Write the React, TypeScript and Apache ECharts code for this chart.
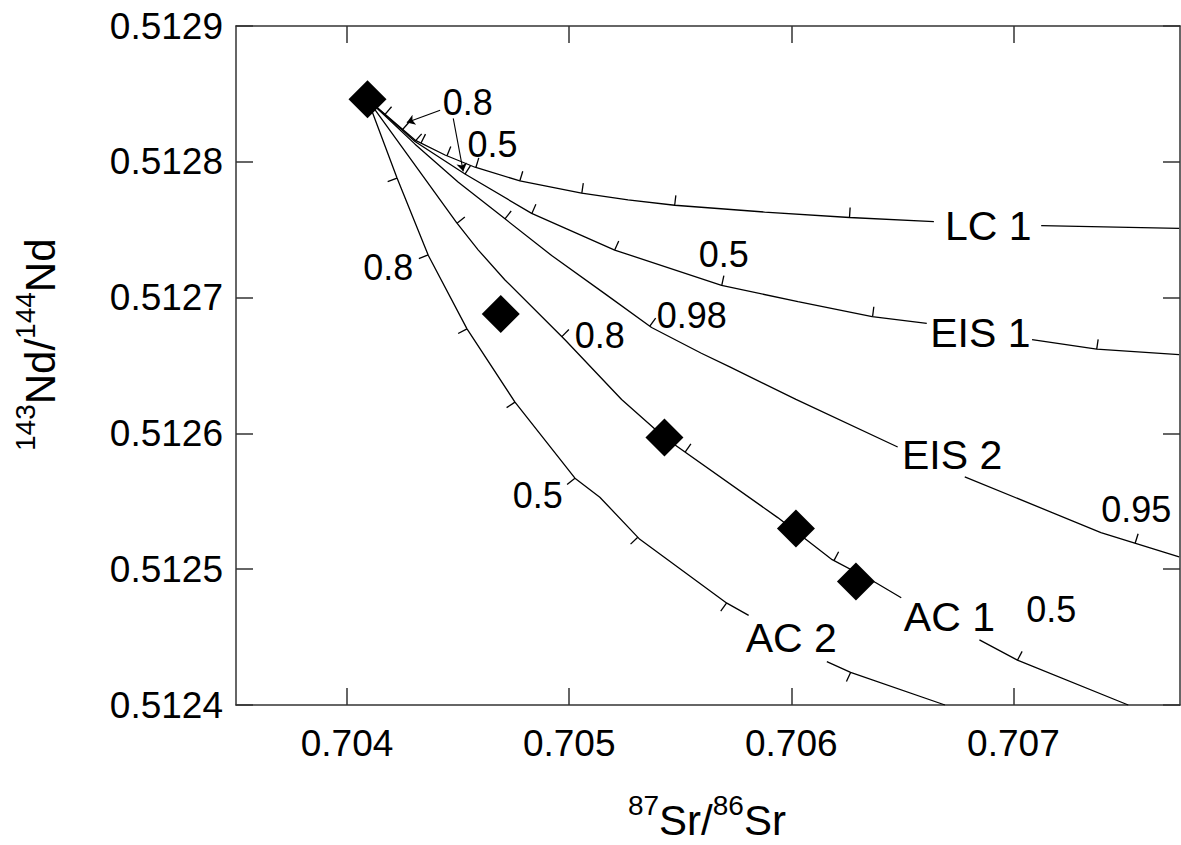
import React, { useEffect, useRef } from 'react';
import * as echarts from 'echarts';

const FONT = '"Liberation Sans", Arial, Helvetica, sans-serif';

// Axis tick values
const xTicks = [0.704, 0.705, 0.706, 0.707];
const yTicks = [0.5124, 0.5125, 0.5126, 0.5127, 0.5128, 0.5129];

// Mixing / AFC curves (null = break in the line where its name sits)
const lc1X = [0.704092, 0.704306, 0.704441, 0.704576, 0.704778, 0.705056, 0.705265, 0.705475, 0.70588, 0.706262, 0.706642, null, 0.707125, 0.707746];
const lc1Y = [0.512846, 0.512816, 0.512805, 0.512796, 0.512786, 0.512777, 0.512772, 0.512768, 0.512763, 0.512759, 0.512756, null, 0.512753, 0.512751];

const eis1X = [0.704092, 0.704306, 0.704531, 0.704831, 0.705205, 0.705686, 0.70603, 0.706364, 0.70661, null, 0.707084, 0.707375, 0.707746];
const eis1Y = [0.512846, 0.512815, 0.512791, 0.512762, 0.512735, 0.512709, 0.512697, 0.512686, 0.512681, null, 0.512669, 0.512662, 0.512658];

const eis2X = [0.704092, 0.704306, 0.704501, 0.704711, 0.704921, 0.705168, 0.705371, 0.705595, 0.705723, 0.706021, 0.706479, null, 0.706781, 0.707394, 0.70755, 0.707746];
const eis2Y = [0.512846, 0.512813, 0.512785, 0.512758, 0.512731, 0.512702, 0.512678, 0.512659, 0.512649, 0.512625, 0.51259, null, 0.512568, 0.512527, 0.512519, 0.512509];

const ac1X = [0.704092, 0.704494, 0.704591, 0.704711, 0.704981, 0.705236, 0.705429, 0.705939, 0.706184, 0.706381, 0.706495, null, 0.706847, 0.707018, 0.707517];
const ac1Y = [0.512846, 0.512755, 0.512735, 0.512713, 0.512669, 0.512625, 0.512597, 0.512538, 0.512507, 0.51249, 0.512479, null, 0.512448, 0.512433, 0.5124];

const ac2X = [0.704092, 0.704225, 0.704366, 0.70454, 0.704756, 0.705026, 0.705138, 0.705318, 0.70571, 0.705808, null, 0.70616, 0.706267, 0.706692];
const ac2Y = [0.512846, 0.512788, 0.512731, 0.512677, 0.512623, 0.512567, 0.512553, 0.512522, 0.512475, 0.512466, null, 0.512432, 0.512424, 0.5124];

// Fraction tick marks along each curve (x positions)
const lc1Ticks = [0.704171, 0.704333, 0.70445, 0.70458, 0.704778, 0.705057, 0.705475, 0.706262];
const eis1Ticks = [0.704248, 0.704306, 0.704531, 0.704832, 0.705205, 0.705687, 0.706366, 0.707375];
const eis2Ticks = [0.704711, 0.705363, 0.707548];
const ac1Ticks = [0.704495, 0.704967, 0.705522, 0.706192, 0.707018];
const ac2Ticks = [0.704225, 0.704365, 0.70454, 0.704756, 0.705026, 0.705309, 0.705709, 0.706267];

// Samples (diamonds)
const sampleX = [0.704092, 0.704692, 0.705429, 0.706021, 0.706291];
const sampleY = [0.512846, 0.512688, 0.512597, 0.51253, 0.512491];

// Curve names and their label positions
const curveNames = ['LC 1', 'EIS 1', 'EIS 2', 'AC 1', 'AC 2'];
const curveLabelX = [0.706887, 0.706851, 0.706724, 0.706712, 0.706];
const curveLabelY = [0.512753, 0.512674, 0.512584, 0.512465, 0.512449];

// Fraction labels
const fracText = ['0.8', '0.5', '0.5', '0.98', '0.8', '0.8', '0.5', '0.95', '0.5'];
const fracX = [0.704543, 0.704655, 0.705696, 0.705552, 0.705138, 0.704185, 0.704859, 0.707553, 0.70717];
const fracY = [0.512844, 0.512813, 0.512732, 0.512687, 0.512672, 0.512722, 0.512554, 0.512544, 0.51247];

// Arrows from the top labels to their ticks
const arrowFromX = [0.704419, 0.704478];
const arrowFromY = [0.512838, 0.512832];
const arrowToX = [0.704269, 0.704523];
const arrowToY = [0.512829, 0.512793];

const curveXs = [lc1X, eis1X, eis2X, ac1X, ac2X];
const curveYs = [lc1Y, eis1Y, eis2Y, ac1Y, ac2Y];
const curveTicks = [lc1Ticks, eis1Ticks, eis2Ticks, ac1Ticks, ac2Ticks];
const tickSide = [1, 1, 1, 1, -1];

function segments(xs: (number | null)[], ys: (number | null)[]) {
  const out: number[][][] = [];
  let cur: number[][] = [];
  xs.forEach((x, i) => {
    if (x == null || ys[i] == null) {
      if (cur.length) out.push(cur);
      cur = [];
    } else {
      cur.push([x, ys[i] as number]);
    }
  });
  if (cur.length) out.push(cur);
  return out;
}

export default function App() {
  const ref = useRef<HTMLDivElement>(null);

  useEffect(() => {
    if (!ref.current) return;
    const chart = echarts.init(ref.current, undefined, { renderer: 'svg' });

    const axisLineStyle = { color: '#333', width: 1.5 };
    const lineSeries: any[] = [];
    curveXs.forEach((xs, ci) => {
      segments(xs, curveYs[ci]).forEach((seg) => {
        lineSeries.push({
          type: 'line',
          data: seg,
          showSymbol: false,
          symbol: 'none',
          lineStyle: { color: '#000', width: 1.3 },
          z: 2,
          silent: true,
        });
      });
    });

    const tickData: number[][] = [];
    curveTicks.forEach((arr, ci) => arr.forEach((x) => tickData.push([x, ci])));

    const tickSeries = {
      type: 'custom',
      data: tickData,
      encode: { x: 0, y: 1 },
      z: 3,
      silent: true,
      renderItem: (params: any, api: any) => {
        const x = api.value(0);
        const ci = api.value(1);
        const segs = segments(curveXs[ci], curveYs[ci]);
        for (const seg of segs) {
          for (let i = 0; i < seg.length - 1; i++) {
            const p0 = api.coord(seg[i]);
            const p1 = api.coord(seg[i + 1]);
            const px = api.coord([x, seg[i][1]])[0];
            if (px >= p0[0] && px <= p1[0]) {
              const t = (px - p0[0]) / (p1[0] - p0[0] || 1);
              const py = p0[1] + t * (p1[1] - p0[1]);
              const dx = p1[0] - p0[0];
              const dy = p1[1] - p0[1];
              const len = Math.sqrt(dx * dx + dy * dy) || 1;
              const s = tickSide[ci];
              const nx = (dy / len) * s;
              const ny = (-dx / len) * s;
              const L = 10;
              return {
                type: 'line',
                shape: { x1: px, y1: py, x2: px + nx * L, y2: py + ny * L },
                style: { stroke: '#000', lineWidth: 1.3 },
              };
            }
          }
        }
        return null;
      },
    };

    const textSeries = (xs: number[], ys: number[], texts: string[], size: number) => ({
      type: 'custom',
      data: xs.map((x, i) => [x, ys[i]]),
      z: 4,
      silent: true,
      renderItem: (params: any, api: any) => {
        const p = api.coord([api.value(0), api.value(1)]);
        return {
          type: 'text',
          x: p[0],
          y: p[1],
          style: {
            text: texts[params.dataIndex],
            fontSize: size,
            fontFamily: FONT,
            fill: '#000',
            align: 'center',
            verticalAlign: 'middle',
          },
        };
      },
    });

    const arrowSeries = {
      type: 'lines',
      coordinateSystem: 'cartesian2d',
      data: arrowFromX.map((x, i) => ({
        coords: [
          [x, arrowFromY[i]],
          [arrowToX[i], arrowToY[i]],
        ],
      })),
      symbol: ['none', 'arrow'],
      symbolSize: 8,
      lineStyle: { color: '#000', width: 1.1, opacity: 1 },
      z: 4,
      silent: true,
    };

    const sampleSeries = {
      type: 'scatter',
      data: sampleX.map((x, i) => [x, sampleY[i]]),
      symbol: 'diamond',
      symbolSize: 38,
      itemStyle: { color: '#000', opacity: 1 },
      z: 5,
      silent: true,
    };

    const xAxisBase = {
      type: 'value',
      min: 0.7035,
      max: 0.70775,
      splitLine: { show: false },
      axisLine: { show: true, onZero: false, lineStyle: axisLineStyle },
      axisTick: { show: true, inside: true, length: 17, customValues: xTicks, lineStyle: axisLineStyle },
    };
    const yAxisBase = {
      type: 'value',
      min: 0.5124,
      max: 0.5129,
      splitLine: { show: false },
      axisLine: { show: true, onZero: false, lineStyle: axisLineStyle },
      axisTick: { show: true, inside: true, length: 17, customValues: yTicks, lineStyle: axisLineStyle },
    };

    const supOff = -20 - 0.3465 * 28;
    const mainOff = -0.3465 * 42;
    const piece = (text: string, x: number, sup: boolean) => ({
      type: 'text',
      x,
      y: sup ? supOff : mainOff,
      style: {
        text,
        fontSize: sup ? 28 : 42,
        fontFamily: FONT,
        fill: '#000',
        align: 'left',
        verticalAlign: 'middle',
      },
    });

    chart.setOption({
      animation: false,
      grid: { left: 236, right: 1, top: 26, bottom: 140, containLabel: false },
      xAxis: [
        {
          ...xAxisBase,
          position: 'bottom',
          axisLabel: {
            show: true,
            customValues: xTicks,
            formatter: (v: number) => v.toFixed(3),
            margin: 20,
            fontSize: 37,
            fontFamily: FONT,
            color: '#000',
          },
        },
        { ...xAxisBase, position: 'top', axisLabel: { show: false } },
      ],
      yAxis: [
        {
          ...yAxisBase,
          position: 'left',
          axisLabel: {
            show: true,
            customValues: yTicks,
            formatter: (v: number) => v.toFixed(4),
            margin: 13,
            fontSize: 37,
            fontFamily: FONT,
            color: '#000',
          },
        },
        { ...yAxisBase, position: 'right', axisLabel: { show: false } },
      ],
      series: [
        ...lineSeries,
        tickSeries,
        arrowSeries,
        textSeries(curveLabelX, curveLabelY, curveNames, 41),
        textSeries(fracX, fracY, fracText, 36),
        sampleSeries,
      ],
      graphic: [
        {
          type: 'group',
          x: 628,
          y: 835,
          children: [
            piece('87', 0, true),
            piece('Sr/', 31.1, false),
            piece('86', 84.8, true),
            piece('Sr', 115.9, false),
          ],
        },
        {
          type: 'group',
          x: 55,
          y: 451,
          rotation: Math.PI / 2,
          children: [
            piece('143', 0, true),
            piece('Nd/', 46.7, false),
            piece('144', 112.1, true),
            piece('Nd', 158.8, false),
          ],
        },
      ],
    });

    return () => chart.dispose();
  }, []);

  return (
    <div
      ref={ref}
      style={{ position: 'absolute', left: 0, top: 0, width: 1181, height: 845, background: '#fff' }}
    />
  );
}
